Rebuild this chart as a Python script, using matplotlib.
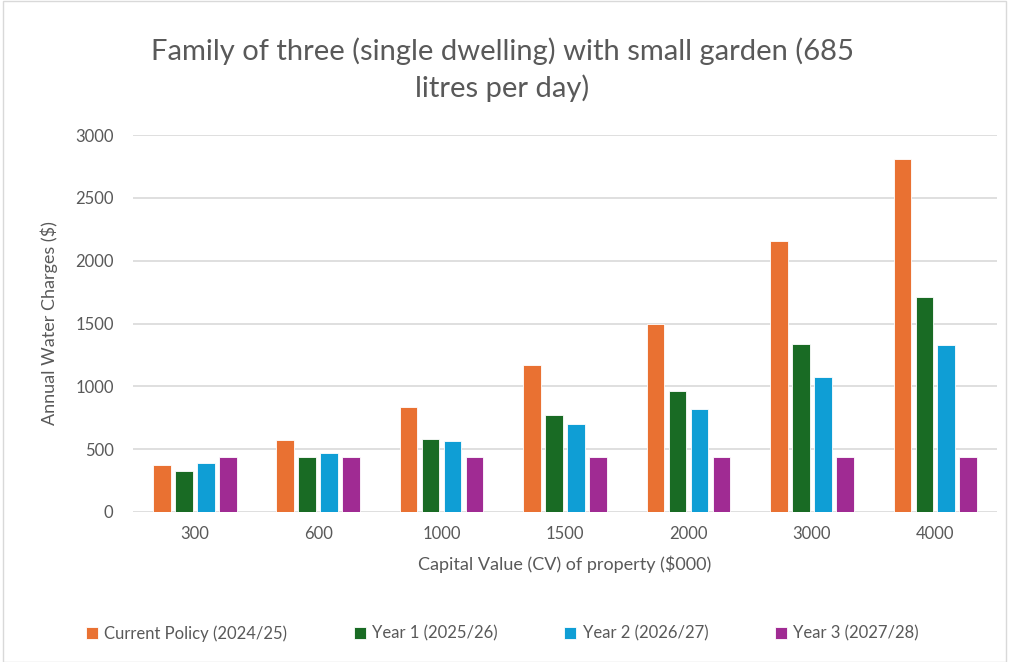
import matplotlib.pyplot as plt
import numpy as np
from matplotlib.patches import Rectangle

# data
categories = ['300', '600', '1000', '1500', '2000', '3000', '4000']
current_policy = [376, 575, 838, 1166, 1496, 2153, 2811]
year1 = [323, 436, 583, 774, 959, 1337, 1713]
year2 = [392, 466, 567, 697, 822, 1076, 1329]
year3 = [437, 437, 437, 437, 437, 437, 437]

series = [
    ('Current Policy (2024/25)', current_policy, '#E97132'),
    ('Year 1 (2025/26)', year1, '#196B24'),
    ('Year 2 (2026/27)', year2, '#0F9ED5'),
    ('Year 3 (2027/28)', year3, '#A02B93'),
]

plt.rcParams['font.family'] = ['Lato', 'DejaVu Sans']
text_col = '#595959'

fig = plt.figure(figsize=(10.11, 6.62), dpi=100)
ax = fig.add_axes([0.1316, 0.2266, 0.8546, 0.5694])

# light border round the chart area
fig.patches.append(Rectangle((0.003, 0.0), 0.992, 0.999, transform=fig.transFigure,
                             fill=False, edgecolor='#d9d9d9', linewidth=1))

x = np.arange(len(categories))
pitch = 0.178
width = 0.143
for i, (name, vals, col) in enumerate(series):
    ax.bar(x + (i - 1.5) * pitch, vals, width, color=col, label=name,
           edgecolor='white', linewidth=0.6, zorder=3)

ax.set_xlim(-0.5, len(categories) - 0.5)
ax.set_ylim(0, 3000)
ax.set_yticks(range(0, 3001, 500))
ax.set_xticks(x)
ax.set_xticklabels(categories)
ax.grid(axis='y', color='#d9d9d9', linewidth=1.2, zorder=0)
for s in ax.spines.values():
    s.set_visible(False)
ax.tick_params(length=0, labelsize=12, colors=text_col, pad=10)
ax.tick_params(axis='y', pad=14)

ax.set_ylabel('Annual Water Charges ($)', fontsize=13, color=text_col, labelpad=12)
ax.set_xlabel('Capital Value (CV) of property ($000)', fontsize=13, color=text_col, labelpad=10)

fig.text(0.497, 0.895, 'Family of three (single dwelling) with small garden (685\nlitres per day)',
         ha='center', va='center', fontsize=21, color=text_col, linespacing=1.4)

fig.legend(loc='center', bbox_to_anchor=(0.497, 0.043), ncol=4, frameon=False,
           fontsize=12, labelcolor=text_col, handlelength=0.7, handleheight=0.7,
           handletextpad=0.4, columnspacing=4.0)

fig.savefig('out.png', dpi=100)
